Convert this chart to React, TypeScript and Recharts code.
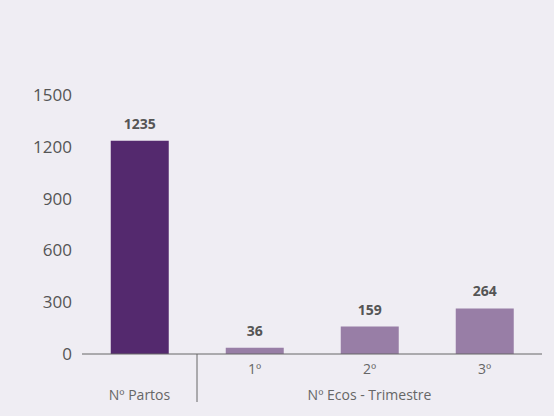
import { BarChart, Bar, XAxis, YAxis, Cell, LabelList } from "recharts";

const categories = ["", "1º", "2º", "3º"];
const groups = ["Nº Partos", "Nº Ecos - Trimestre", "Nº Ecos - Trimestre", "Nº Ecos - Trimestre"];
const values = [1235, 36, 159, 264];
const barColors = ["#54296e", "#987ea6", "#987ea6", "#987ea6"];
const yTicks = [0, 300, 600, 900, 1200, 1500];

const data = categories.map((tick, i) => ({ tick, group: groups[i], value: values[i] }));

const FONT = "'Open Sans', sans-serif";

function GroupTick(props: any) {
  const { x, y, payload, index } = props;
  const band = (payload && payload.offset) || 57.5;
  // group label drawn once, at the middle of its span
  const showLabel = index === 0 || index === 2;
  return (
    <g>
      {index === 1 && (
        <line x1={x - band} x2={x - band} y1={y - 38} y2={y + 10} stroke="#666" strokeWidth={1} />
      )}
      {showLabel && (
        <text x={x} y={y + 8} textAnchor="middle" fill="#666" fontSize={14} fontFamily={FONT}>
          {payload.value}
        </text>
      )}
    </g>
  );
}

export default function App() {
  return (
    <div style={{ width: 554, height: 416, background: "#efedf3", position: "absolute", left: 0, top: 0 }}>
      <style>{"body{margin:0}"}</style>
      <BarChart
        width={554}
        height={416}
        data={data}
        margin={{ top: 95, right: 12, bottom: 4, left: 0 }}
        barCategoryGap="25%"
      >
        <YAxis
          domain={[0, 1500]}
          ticks={yTicks}
          axisLine={false}
          tickLine={false}
          width={82}
          tickMargin={4}
          tick={{ fill: "#555", fontSize: 17, fontFamily: FONT }}
        />
        <XAxis
          dataKey="tick"
          axisLine={{ stroke: "#666" }}
          tickLine={false}
          height={30}
          tickMargin={4}
          tick={{ fill: "#666", fontSize: 14, fontFamily: FONT }}
        />
        <XAxis
          dataKey="group"
          xAxisId="group"
          axisLine={false}
          tickLine={false}
          height={28}
          interval={0}
          tick={<GroupTick />}
        />
        <Bar dataKey="value" isAnimationActive={false}>
          {values.map((_, i) => (
            <Cell key={i} fill={barColors[i]} />
          ))}
          <LabelList
            dataKey="value"
            position="top"
            offset={12}
            fill="#555"
            fontSize={14}
            fontWeight="bold"
            fontFamily={FONT}
          />
        </Bar>
      </BarChart>
    </div>
  );
}
